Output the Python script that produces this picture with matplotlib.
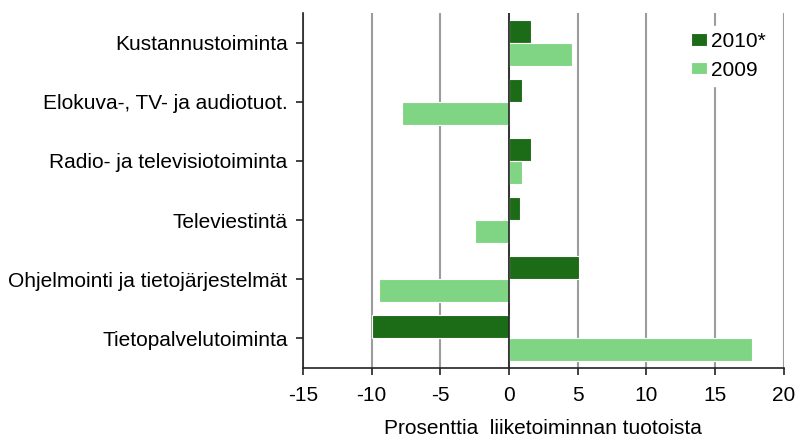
import matplotlib
matplotlib.use("Agg")
import matplotlib.pyplot as plt
import numpy as np

categories = ["Kustannustoiminta", "Elokuva-, TV- ja audiotuot.", "Radio- ja televisiotoiminta",
              "Televiestintä", "Ohjelmointi ja tietojärjestelmät", "Tietopalvelutoiminta"]
values_2010 = [1.6, 0.95, 1.6, 0.8, 5.1, -10.0]
values_2009 = [4.55, -7.8, 0.95, -2.45, -9.45, 17.7]
series_labels = ["2010*", "2009"]
xticks = [-15, -10, -5, 0, 5, 10, 15, 20]

plt.rcParams['font.family'] = ['Liberation Sans', 'DejaVu Sans']
FS = 15

fig = plt.figure(figsize=(7.95, 4.37), dpi=100)
ax = fig.add_axes([0.381, 0.158, 0.605, 0.812])

dark = "#1c6b17"
light = "#7fd584"
y = np.arange(len(categories))
h = 0.39
ax.barh(y - h/2, values_2010, height=h, color=dark, edgecolor="white", linewidth=0.8,
        label=series_labels[0], zorder=3)
ax.barh(y + h/2, values_2009, height=h, color=light, edgecolor="white", linewidth=0.8,
        label=series_labels[1], zorder=3)

ax.set_xlim(-15, 20)
ax.set_ylim(len(categories) - 0.5, -0.5)
ax.set_xticks(xticks)
ax.set_xticklabels([str(t) for t in xticks], fontsize=FS)
ax.set_yticks(y)
ax.set_yticklabels(categories, fontsize=FS)
ax.xaxis.grid(True, color="#9c9c9c", linewidth=1.5, zorder=0)
ax.set_axisbelow(True)
ax.axvline(0, color="#222222", linewidth=1.2, zorder=4)
for s in ["top", "right"]:
    ax.spines[s].set_visible(False)
for s in ["left", "bottom"]:
    ax.spines[s].set_linewidth(1.2)
    ax.spines[s].set_color("#222222")
ax.tick_params(axis="both", length=5, width=1.2, color="#222222")
ax.tick_params(axis="x", pad=8)
ax.tick_params(axis="y", pad=6)
ax.set_xlabel("Prosenttia  liiketoiminnan tuotoista", fontsize=FS, labelpad=10)

leg = ax.legend(loc="upper left", bbox_to_anchor=(0.793, 0.964), frameon=True, fontsize=FS,
                handlelength=0.8, handleheight=0.55, handletextpad=0.2, labelspacing=0.45,
                borderpad=0.3, borderaxespad=0, fancybox=False)
leg.get_frame().set_edgecolor("white")
leg.get_frame().set_facecolor("white")
leg.get_frame().set_alpha(1)
leg.set_zorder(5)

fig.savefig("out.png", dpi=100)
